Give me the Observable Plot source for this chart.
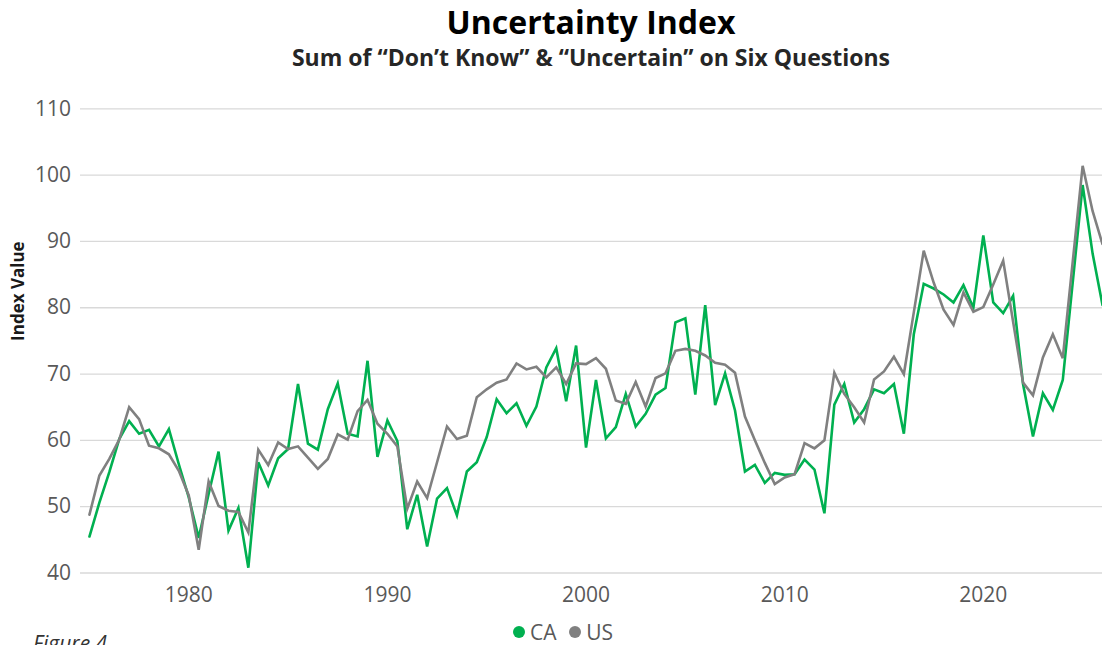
<!DOCTYPE html>
<html>
<head>
<meta charset="utf-8">
<script src="https://cdn.jsdelivr.net/npm/d3@7"></script>
<script src="https://cdn.jsdelivr.net/npm/@observablehq/plot@0.6"></script>
<style>
  html, body { margin: 0; padding: 0; background: #fff; }
  #wrap { position: relative; width: 1102px; height: 645px; overflow: hidden; font-family: "Open Sans", sans-serif; }
  #title { position: absolute; left: 80px; width: 1022px; top: 0px; text-align: center; font-size: 32px; font-weight: 700; color: #000; line-height: normal; }
  #subtitle { position: absolute; left: 80px; width: 1022px; top: 41.4px; text-align: center; font-size: 23px; font-weight: 700; color: #262626; line-height: normal; }
  #chart { position: absolute; left: 0; top: 90px; }
  #legend { position: absolute; left: 513px; top: 618px; display: flex; align-items: center; font-size: 21px; color: #595959; line-height: normal; }
  #legend .dot { width: 12px; height: 12px; border-radius: 50%; display: inline-block; margin-right: 5px; }
  #figure { position: absolute; left: 33px; top: 629px; font-size: 21px; font-style: italic; color: #333; line-height: normal; }
</style>
</head>
<body>
<div id="wrap">
  <div id="title">Uncertainty Index</div>
  <div id="subtitle">Sum of “Don’t Know” &amp; “Uncertain” on Six Questions</div>
  <div id="chart"></div>
  <div id="legend"></div>
  <div id="figure">Figure 4</div>
</div>
<script>
// Semi-annual observations, first one in 1975, every half year through 2026
const startYear = 1975;
const stepYears = 0.5;

const seriesNames = ["CA", "US"];
const seriesColors = ["#00b050", "#808080"];

const caValues = [
  45.5, 50.6, 55.2, 60.2, 62.9, 61.0, 61.6, 59.1, 61.7, 56.4, 51.4, 45.3, 51.9, 58.3, 46.4, 49.8, 40.8, 56.7, 53.2, 57.3, 58.7, 68.5, 59.5, 58.6, 64.7, 68.6,
  61.0, 60.6, 72.0, 57.5, 63.0, 59.9, 46.6, 51.8, 44.0, 51.2, 52.8, 48.7, 55.3, 56.7, 60.5, 66.2, 64.1, 65.6, 62.2, 65.1, 71.0, 73.9, 65.9, 74.3, 58.9, 69.1,
  60.3, 62.0, 67.0, 62.1, 64.0, 66.9, 67.9, 77.8, 78.4, 66.9, 80.4, 65.3, 70.1, 64.5, 55.3, 56.3, 53.6, 55.1, 54.8, 54.9, 57.1, 55.6, 49.0, 65.4, 68.5,
  62.7, 64.7, 67.7, 67.1, 68.5, 61.0, 76.0, 83.6, 82.9, 82.0, 80.8, 83.4, 80.0, 90.9, 80.8, 79.2, 81.8, 68.5, 60.6, 67.1, 64.6, 69.1, 83.8, 98.5, 88.2, 80.4
];

const usValues = [
  48.8, 54.7, 57.2, 60.1, 65.0, 63.2, 59.2, 58.8, 57.9, 55.4, 51.7, 43.5, 53.8, 50.1, 49.4, 49.2, 46.1, 58.6, 56.3, 59.7, 58.7, 59.1, 57.4, 55.7, 57.2, 60.9,
  60.1, 64.4, 66.1, 62.5, 61.0, 59.1, 49.7, 53.8, 51.3, 56.7, 62.1, 60.2, 60.7, 66.5, 67.7, 68.7, 69.2, 71.6, 70.7, 71.1, 69.5, 71.0, 68.5, 71.6, 71.5, 72.4,
  70.8, 66.0, 65.5, 68.8, 65.1, 69.4, 70.1, 73.5, 73.8, 73.5, 72.8, 71.7, 71.4, 70.2, 63.6, 60.0, 56.6, 53.4, 54.4, 54.9, 59.6, 58.8, 60.0, 70.2, 67.0,
  65.0, 62.7, 69.2, 70.4, 72.6, 70.0, 79.3, 88.6, 83.8, 79.7, 77.4, 82.3, 79.4, 80.1, 83.5, 87.1, 77.9, 68.7, 66.8, 72.5, 76.0, 72.4, 86.9, 101.4, 94.6, 89.6
];

const xTicks = [1980, 1990, 2000, 2010, 2020];
const yTicks = [40, 50, 60, 70, 80, 90, 100, 110];

const rows = [];
[caValues, usValues].forEach((vals, s) => {
  vals.forEach((v, i) => rows.push({ series: seriesNames[s], year: startYear + i * stepYears, value: v }));
});

const chart = Plot.plot({
  width: 1102,
  height: 535,
  marginTop: 18.3,
  marginBottom: 52.5,
  marginLeft: 80,
  marginRight: 0,
  style: { fontFamily: "Open Sans, sans-serif", fontSize: "21px", color: "#595959", background: "transparent", overflow: "visible" },
  x: { type: "linear", domain: [1974.55, 2026] },
  y: { domain: [40, 110] },
  color: { domain: seriesNames, range: seriesColors },
  marks: [
    Plot.gridY(yTicks, { stroke: "#d9d9d9", strokeOpacity: 1, strokeWidth: 1.3 }),
    Plot.axisX(xTicks, { tickSize: 0, tickPadding: 14, tickFormat: d => String(d), label: null }),
    Plot.axisY(yTicks, { tickSize: 0, tickPadding: 9.5, label: null }),
    Plot.line(rows, { x: "year", y: "value", z: "series", stroke: "series", strokeWidth: 2.6, strokeLinejoin: "miter", strokeMiterlimit: 4, curve: "linear" }),
    Plot.text(["Index Value"], { frameAnchor: "left", dx: -61.5, rotate: -90, text: d => d, fontSize: 17, fontWeight: 700, fill: "#1a1a1a" })
  ]
});
document.getElementById("chart").appendChild(chart);

const legend = document.getElementById("legend");
seriesNames.forEach((name, i) => {
  const item = document.createElement("span");
  item.style.display = "inline-flex";
  item.style.alignItems = "center";
  item.style.marginRight = i === 0 ? "12.7px" : "0";
  const dot = document.createElement("span");
  dot.className = "dot";
  dot.style.background = seriesColors[i];
  const label = document.createElement("span");
  label.textContent = name;
  item.appendChild(dot);
  item.appendChild(label);
  legend.appendChild(item);
});
</script>
</body>
</html>
